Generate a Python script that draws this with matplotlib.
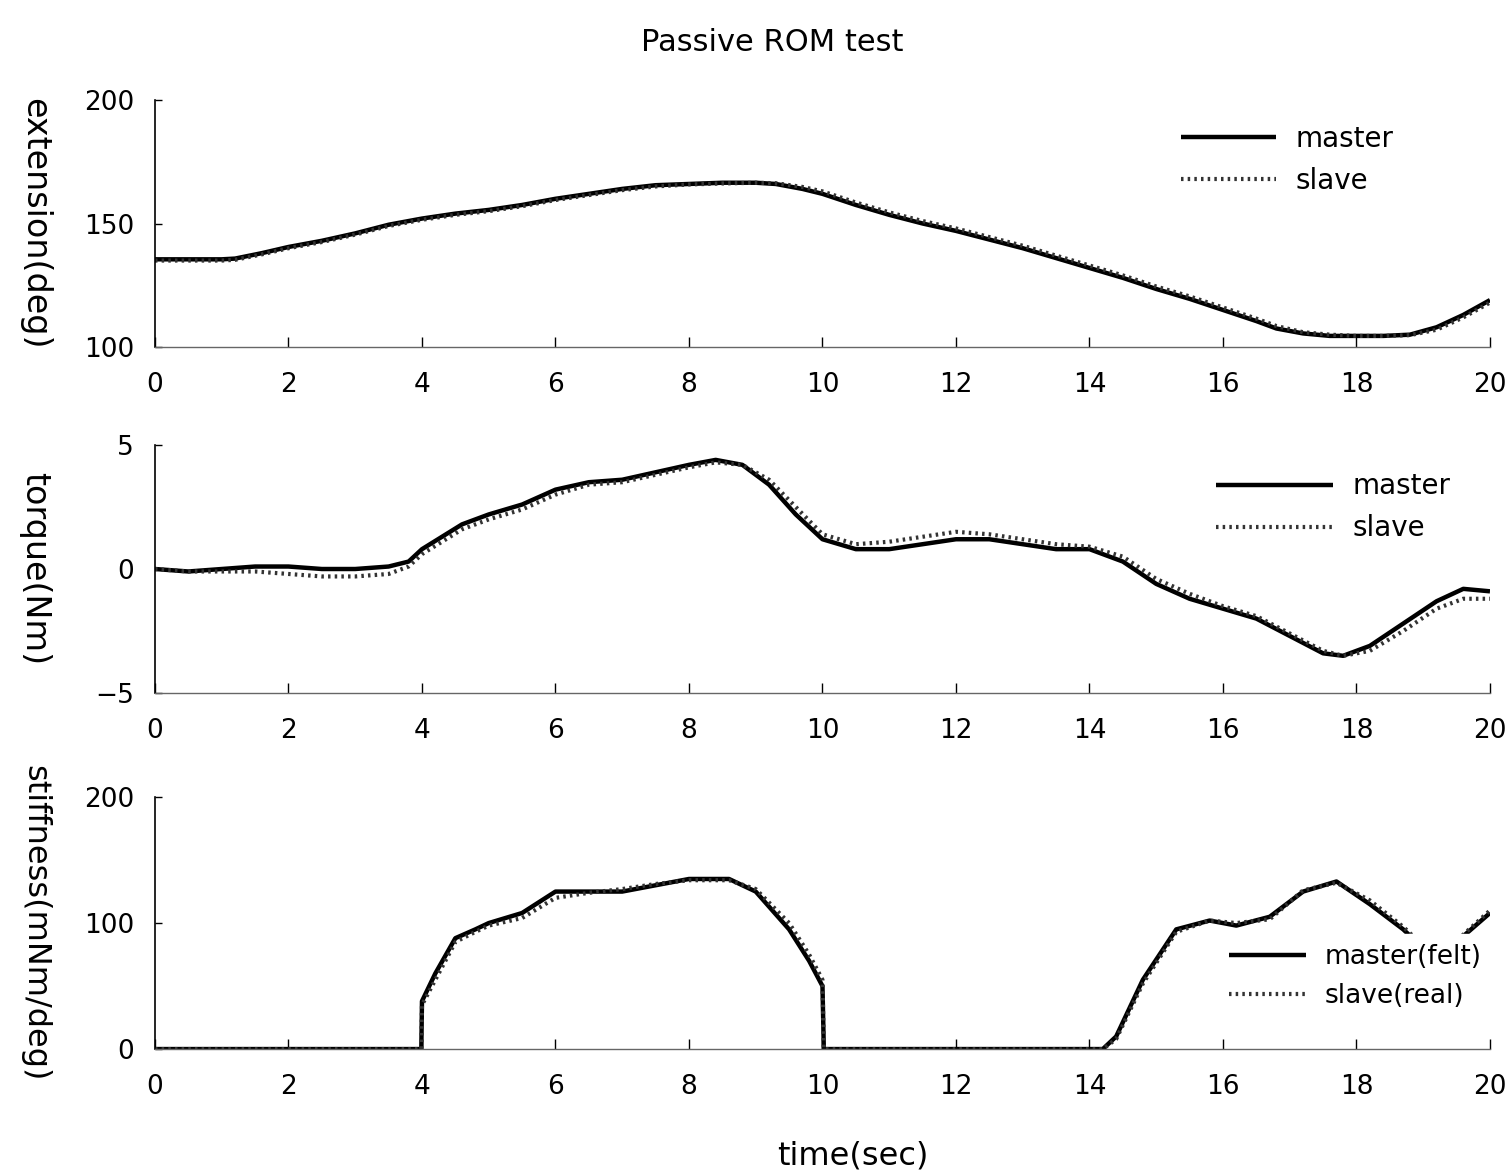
import numpy as np
import matplotlib.pyplot as plt

plt.rcParams['font.family'] = ['DejaVu Sans']

# time stamps (s) and readings for each panel
t_ext = [0, 0.5, 1.0, 1.2, 1.6, 2.0, 2.5, 3.0, 3.5, 4.0, 4.5, 5.0, 5.5, 6.0, 6.5, 7.0, 7.5,
         8.0, 8.5, 9.0, 9.3, 9.7, 10.0, 10.5, 11.0, 11.5, 12.0, 12.5, 13.0, 13.5, 14.0,
         14.5, 15.0, 15.5, 16.0, 16.5, 16.8, 17.2, 17.6, 18.0, 18.4, 18.8, 19.2, 19.6, 20.0]
ext_master = [135.5, 135.5, 135.5, 135.8, 138.0, 140.5, 143.0, 146.0, 149.5, 152.0, 154.0, 155.5,
              157.5, 160.0, 162.0, 164.0, 165.5, 166.0, 166.5, 166.5, 166.0, 164.0, 162.0, 157.5,
              153.5, 150.0, 147.0, 143.5, 140.0, 136.0, 132.0, 128.0, 123.5, 119.5, 115.0, 110.5,
              107.5, 105.5, 104.5, 104.5, 104.5, 105.0, 108.0, 113.0, 119.0]
ext_slave = [135.0, 135.0, 135.0, 135.3, 137.5, 140.0, 142.5, 145.5, 149.0, 151.5, 153.5, 155.0,
             157.0, 159.5, 161.5, 163.5, 165.0, 165.8, 166.2, 166.5, 166.3, 164.8, 163.0, 158.5,
             154.5, 151.0, 148.0, 144.5, 141.0, 137.0, 133.0, 129.0, 124.5, 120.5, 116.0, 111.5,
             108.5, 106.0, 105.0, 104.5, 104.5, 104.8, 107.0, 112.0, 118.0]

t_trq = [0, 0.5, 1.0, 1.5, 2.0, 2.5, 3.0, 3.5, 3.8, 4.0, 4.3, 4.6, 5.0, 5.5, 6.0, 6.5, 7.0, 7.5,
         8.0, 8.4, 8.8, 9.2, 9.6, 10.0, 10.5, 11.0, 11.5, 12.0, 12.5, 13.0, 13.5, 14.0, 14.5,
         15.0, 15.5, 16.0, 16.5, 17.0, 17.5, 17.8, 18.2, 18.7, 19.2, 19.6, 20.0]
trq_master = [0.0, -0.1, 0.0, 0.1, 0.1, 0.0, 0.0, 0.1, 0.3, 0.8, 1.3, 1.8, 2.2, 2.6, 3.2, 3.5, 3.6,
              3.9, 4.2, 4.4, 4.2, 3.4, 2.2, 1.2, 0.8, 0.8, 1.0, 1.2, 1.2, 1.0, 0.8, 0.8, 0.3,
              -0.6, -1.2, -1.6, -2.0, -2.7, -3.4, -3.5, -3.1, -2.2, -1.3, -0.8, -0.9]
trq_slave = [0.0, -0.1, -0.1, -0.1, -0.2, -0.3, -0.3, -0.2, 0.1, 0.6, 1.1, 1.6, 2.0, 2.4, 3.0, 3.4,
             3.5, 3.8, 4.1, 4.3, 4.2, 3.6, 2.5, 1.4, 1.0, 1.1, 1.3, 1.5, 1.4, 1.2, 1.0, 0.9, 0.5,
             -0.4, -1.0, -1.5, -1.9, -2.6, -3.3, -3.5, -3.3, -2.5, -1.6, -1.2, -1.2]

t_stf = [0, 2.0, 3.99, 4.0, 4.2, 4.5, 4.8, 5.0, 5.5, 6.0, 6.5, 7.0, 7.5, 8.0, 8.6, 9.0, 9.5,
         9.8, 10.0, 10.02, 12.0, 14.2, 14.4, 14.8, 15.3, 15.8, 16.2, 16.7, 17.2, 17.7, 18.2,
         18.7, 19.0, 19.5, 20.0]
stf_master = [0, 0, 0, 38, 60, 88, 95, 100, 108, 125, 125, 125, 130, 135, 135, 125, 95,
              70, 50, 0, 0, 0, 10, 55, 95, 102, 98, 105, 125, 133, 115, 95, 80, 85, 108]
stf_slave = [0, 0, 0, 35, 55, 85, 93, 98, 104, 120, 124, 127, 131, 134, 134, 127, 100,
             75, 55, 0, 0, 0, 8, 52, 93, 102, 100, 103, 126, 132, 118, 97, 82, 86, 110]

fig = plt.figure(figsize=(15.09, 11.72), dpi=100)

panels = [
    (0.7039, 0.2108, t_ext, ext_master, ext_slave, (100, 200), [100, 150, 200],
     ['100', '150', '200'], 'extension(deg)', ['master', 'slave']),
    (0.4087, 0.2116, t_trq, trq_master, trq_slave, (-5, 5), [-5, 0, 5],
     ['\u22125', '0', '5'], 'torque(Nm)', ['master', 'slave']),
    (0.1049, 0.2150, t_stf, stf_master, stf_slave, (0, 200), [0, 100, 200],
     ['0', '100', '200'], 'stiffness(mNm/deg)', ['master(felt)', 'slave(real)']),
]
leg_anchor = [(0.750, 1.0), (0.776, 0.99), (0.787, 0.51)]
leg_handle = [3.4, 4.2, 2.9]
leg_size = [20, 20, 19]
ylab_size = [24, 24, 23]

for i, (bot, h, t, m, s, ylim, yt, ytl, ylab, names) in enumerate(panels):
    ax = fig.add_axes([0.1027, bot, 0.8847, h])
    ax.plot(t, m, color='black', lw=3.2, label=names[0], solid_capstyle='butt')
    ax.plot(t, s, color='#333333', lw=3.0, ls=(0, (0.6, 1.0)), label=names[1])
    ax.set_xlim(0, 20)
    ax.set_ylim(*ylim)
    ax.set_xticks(range(0, 21, 2))
    ax.set_yticks(yt)
    ax.set_yticklabels(ytl)
    for sp in ['top', 'right']:
        ax.spines[sp].set_visible(False)
    ax.spines['left'].set_linewidth(1.2)
    ax.spines['bottom'].set_linewidth(1.0)
    ax.spines['bottom'].set_color('#666666')
    ax.tick_params(axis='x', direction='in', length=7, width=1.0, pad=18, labelsize=19)
    ax.tick_params(axis='y', direction='in', length=5, width=1.0, pad=15, labelsize=19)
    fig.text(0.023, bot + h / 2, ylab, rotation=270, ha='center', va='center',
             fontsize=ylab_size[i])
    leg = ax.legend(loc='upper left', bbox_to_anchor=leg_anchor[i], fontsize=leg_size[i],
                    handlelength=leg_handle[i], handletextpad=0.7, labelspacing=0.5,
                    frameon=(i == 2), borderpad=0.4)
    if i == 2:
        leg.get_frame().set_facecolor('white')
        leg.get_frame().set_edgecolor('white')
        leg.get_frame().set_alpha(1.0)

fig.text(0.512, 0.964, 'Passive ROM test', ha='center', va='center', fontsize=22)
fig.text(0.565, 0.014, 'time(sec)', ha='center', va='center', fontsize=23)

fig.savefig('out.png', dpi=100)
